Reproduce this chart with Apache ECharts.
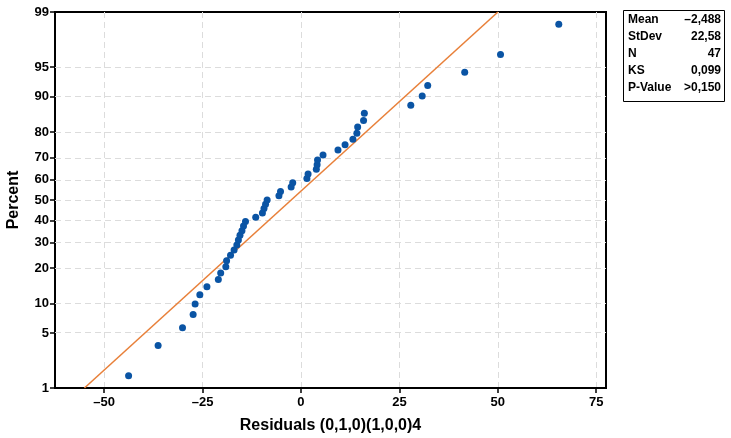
<!DOCTYPE html>
<html>
<head>
<meta charset="utf-8">
<script src="https://cdn.jsdelivr.net/npm/echarts@6/dist/echarts.min.js"></script>
<style>
  html, body { margin: 0; padding: 0; background: #fff; }
  #chart { width: 731px; height: 438px; }
</style>
</head>
<body>
<div id="chart"></div>
<script>
// Sorted residuals (47 observations)
const residuals = [
  -43.8, -36.3, -30.1, -27.4, -26.9, -25.7, -23.9, -21.0, -20.4, -19.1,
  -18.9, -17.9, -17.0, -16.3, -15.9, -15.5, -15.0, -14.6, -14.1, -11.5,
  -9.8, -9.4, -9.0, -8.6, -5.6, -5.2, -2.5, -2.1, 1.5, 1.8,
  3.9, 4.1, 4.2, 5.6, 9.4, 11.2, 13.2, 14.2, 14.4, 15.9,
  16.1, 27.9, 30.8, 32.2, 41.6, 50.7, 65.5
];

// Probability-scale tick labels (percent)
const percentTicks = [1, 5, 10, 20, 30, 40, 50, 60, 70, 80, 90, 95, 99];
// Residual axis labels
const xTicks = [-50, -25, 0, 25, 50, 75];

// Summary statistics
const statNames = ['Mean', 'StDev', 'N', 'KS', 'P-Value'];
const statTexts = ['\u20132,488', '22,58', '47', '0,099', '>0,150'];
const fitMean = -2.488;
const fitStDev = 22.58;

// Inverse of the standard normal CDF (Acklam's rational approximation)
function normInv(p) {
  const a = [-3.969683028665376e+01, 2.209460984245205e+02, -2.759285104469687e+02,
             1.383577518672690e+02, -3.066479806614716e+01, 2.506628277459239e+00];
  const b = [-5.447609879822406e+01, 1.615858368580409e+02, -1.556989798598866e+02,
             6.680131188771972e+01, -1.328068155288572e+01];
  const c = [-7.784894002430293e-03, -3.223964580411365e-01, -2.400758277161838e+00,
             -2.549732539343734e+00, 4.374664141464968e+00, 2.938163982698783e+00];
  const d = [7.784695709041462e-03, 3.224671290700398e-01, 2.445134137142996e+00,
             3.754408661907416e+00];
  const pl = 0.02425, ph = 1 - pl;
  let q, r;
  if (p < pl) {
    q = Math.sqrt(-2 * Math.log(p));
    return (((((c[0]*q+c[1])*q+c[2])*q+c[3])*q+c[4])*q+c[5]) /
           ((((d[0]*q+d[1])*q+d[2])*q+d[3])*q+1);
  }
  if (p <= ph) {
    q = p - 0.5; r = q * q;
    return (((((a[0]*r+a[1])*r+a[2])*r+a[3])*r+a[4])*r+a[5])*q /
           (((((b[0]*r+b[1])*r+b[2])*r+b[3])*r+b[4])*r+1);
  }
  q = Math.sqrt(-2 * Math.log(1 - p));
  return -(((((c[0]*q+c[1])*q+c[2])*q+c[3])*q+c[4])*q+c[5]) /
          ((((d[0]*q+d[1])*q+d[2])*q+d[3])*q+1);
}

const n = residuals.length;
// Median-rank plotting positions on the normal score scale
const points = residuals.map((v, i) => [v, normInv((i + 1 - 0.3) / (n + 0.4))]);

const zTicks = percentTicks.map(p => normInv(p / 100));
const zLo = zTicks[0];
const zHi = zTicks[zTicks.length - 1];
const zGrid = zTicks.slice(1, -1);

// Fitted normal line across the full probability range
const fitLine = [
  [fitMean + fitStDev * zLo, zLo],
  [fitMean + fitStDev * zHi, zHi]
];

const FONT = '"Liberation Sans Narrow", "Liberation Sans", Arial, sans-serif';

function percentLabel(v) {
  for (let i = 0; i < zTicks.length; i++) {
    if (Math.abs(zTicks[i] - v) < 1e-6) return String(percentTicks[i]);
  }
  return '';
}

const chart = echarts.init(document.getElementById('chart'), null, { renderer: 'canvas' });

const statsGraphic = [{
  type: 'rect',
  shape: { x: 623.5, y: 10.5, width: 101, height: 91 },
  style: { fill: '#fff', stroke: '#000', lineWidth: 1 }
}];
statNames.forEach((name, i) => {
  statsGraphic.push({
    type: 'text', x: 628, y: 20 + i * 17,
    style: { text: name, fontFamily: FONT, fontWeight: 'bold', fontSize: 12,
             fill: '#000', verticalAlign: 'middle', textAlign: 'left' }
  });
  statsGraphic.push({
    type: 'text', x: 721, y: 20 + i * 17,
    style: { text: statTexts[i], fontFamily: FONT, fontWeight: 'bold', fontSize: 12,
             fill: '#000', verticalAlign: 'middle', textAlign: 'right' }
  });
});

chart.setOption({
  animation: false,
  backgroundColor: '#fff',
  grid: {
    left: 55, top: 12, right: 125, bottom: 50,
    containLabel: false,
    outerBoundsMode: 'none',
    show: true, borderColor: '#000', borderWidth: 2, backgroundColor: '#fff'
  },
  xAxis: {
    type: 'value',
    min: -62.5, max: 77.5, interval: 12.5,
    name: 'Residuals (0,1,0)(1,0,0)4',
    nameLocation: 'middle', nameGap: 30,
    nameTextStyle: { fontFamily: FONT, fontWeight: 'bold', fontSize: 16, color: '#000' },
    axisLine: { show: true, onZero: false, lineStyle: { color: '#000', width: 2 } },
    axisTick: { show: true, length: 5, customValues: xTicks, lineStyle: { color: '#000', width: 1.5 } },
    axisLabel: {
      customValues: xTicks,
      fontFamily: FONT, fontWeight: 'bold', fontSize: 13, color: '#000', margin: 8,
      formatter: v => (v < 0 ? '\u2013' + Math.abs(v) : String(v))
    },
    splitLine: { show: true, lineStyle: { color: '#dcdcdc', type: [6, 4], width: 1 } }
  },
  yAxis: {
    type: 'value',
    min: zLo, max: zHi,
    name: 'Percent',
    nameLocation: 'middle', nameGap: 33, nameRotate: 90,
    nameTextStyle: { fontFamily: FONT, fontWeight: 'bold', fontSize: 16, color: '#000' },
    axisLine: { show: true, onZero: false, lineStyle: { color: '#000', width: 2 } },
    axisTick: { show: true, length: 5, customValues: zTicks, lineStyle: { color: '#000', width: 1.5 } },
    axisLabel: {
      customValues: zTicks,
      fontFamily: FONT, fontWeight: 'bold', fontSize: 13, color: '#000', margin: 6,
      formatter: v => percentLabel(v)
    },
    splitLine: { show: false }
  },
  series: [
    {
      type: 'line',
      data: fitLine,
      symbol: 'none',
      lineStyle: { color: '#E8803A', width: 1.6 },
      z: 2,
      markLine: {
        silent: true,
        z: 1,
        symbol: 'none',
        label: { show: false },
        lineStyle: { color: '#dcdcdc', type: [6, 4], width: 1 },
        data: zGrid.map(z => ({ yAxis: z }))
      }
    },
    {
      type: 'scatter',
      data: points,
      symbol: 'circle',
      symbolSize: 7,
      itemStyle: { color: '#0A54A4', opacity: 1 },
      z: 10
    }
  ],
  graphic: statsGraphic
});
</script>
</body>
</html>
